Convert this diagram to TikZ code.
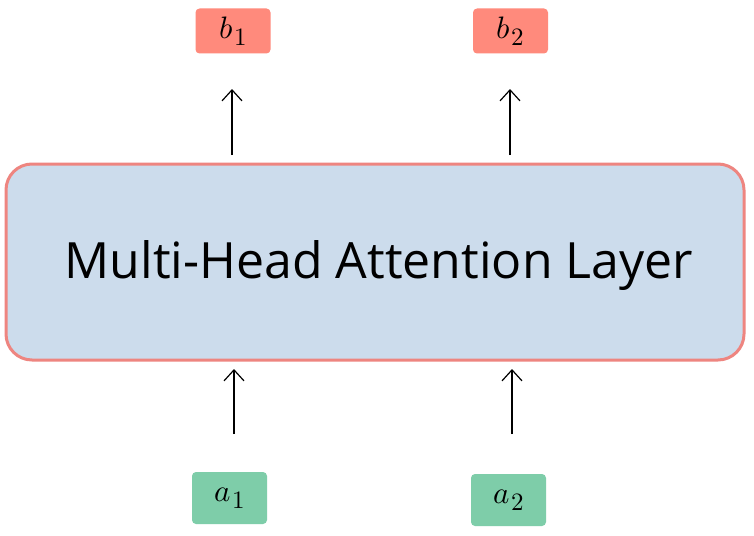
\documentclass[tikz,border=0pt]{standalone}
\usepackage{fontspec}
\usepackage{unicode-math}
\setmathfont{Latin Modern Math}
\setsansfont{Open Sans}
\usetikzlibrary{arrows.meta}
\definecolor{outred}{HTML}{FF8A7C}
\definecolor{ingreen}{HTML}{7ECDA9}
\definecolor{layerfill}{HTML}{CCDCEC}
\definecolor{layerdraw}{HTML}{EE8580}
\newcommand{\tokm}[2]{\fontsize{31}{33}\selectfont$#1$\kern1.5pt\raisebox{-7pt}{\fontsize{25}{27}\selectfont$#2$}}
\tikzset{
  tok/.style={rounded corners=4pt, minimum width=75pt, minimum height=45pt, inner sep=0pt},
  outtok/.style={tok, fill=outred},
  intok/.style={tok, fill=ingreen, minimum height=52pt},
  layer/.style={rounded corners=26pt, fill=layerfill, draw=layerdraw, line width=3pt, minimum width=738pt, minimum height=196pt, inner sep=0pt},
  layertext/.style={font=\sffamily\fontsize{50}{54}\selectfont, inner sep=0pt},
  conn/.style={line width=1.2pt, -{Straight Barb[length=11pt, width=20pt, line width=1.2pt]}}
}
\begin{document}
\begin{tikzpicture}[x=1pt, y=-1pt]
\useasboundingbox[fill=white] (0,0) rectangle (754,535);
\node[layer] (L) at (375,262) {};
\node[layertext] (Ltxt) at (379,266) {Multi-Head Attention Layer};
\node[outtok] (b1) at (233,31) {\tokm{b}{1}};
\node[outtok] (b2) at (510.5,31) {\tokm{b}{2}};
\node[intok] (a1) at (229.5,498) {\tokm{a}{1}};
\node[intok] (a2) at (508.5,500) {\tokm{a}{2}};
\coordinate (t1s) at (232,155);
\coordinate (t1e) at (232,89);
\coordinate (t2s) at (510,155);
\coordinate (t2e) at (510,89);
\coordinate (u1s) at (234,434);
\coordinate (u1e) at (234,369);
\coordinate (u2s) at (512,434);
\coordinate (u2e) at (512,369);
\draw[conn] (t1s) -- (t1e);
\draw[conn] (t2s) -- (t2e);
\draw[conn] (u1s) -- (u1e);
\draw[conn] (u2s) -- (u2e);
\end{tikzpicture}
\end{document}
